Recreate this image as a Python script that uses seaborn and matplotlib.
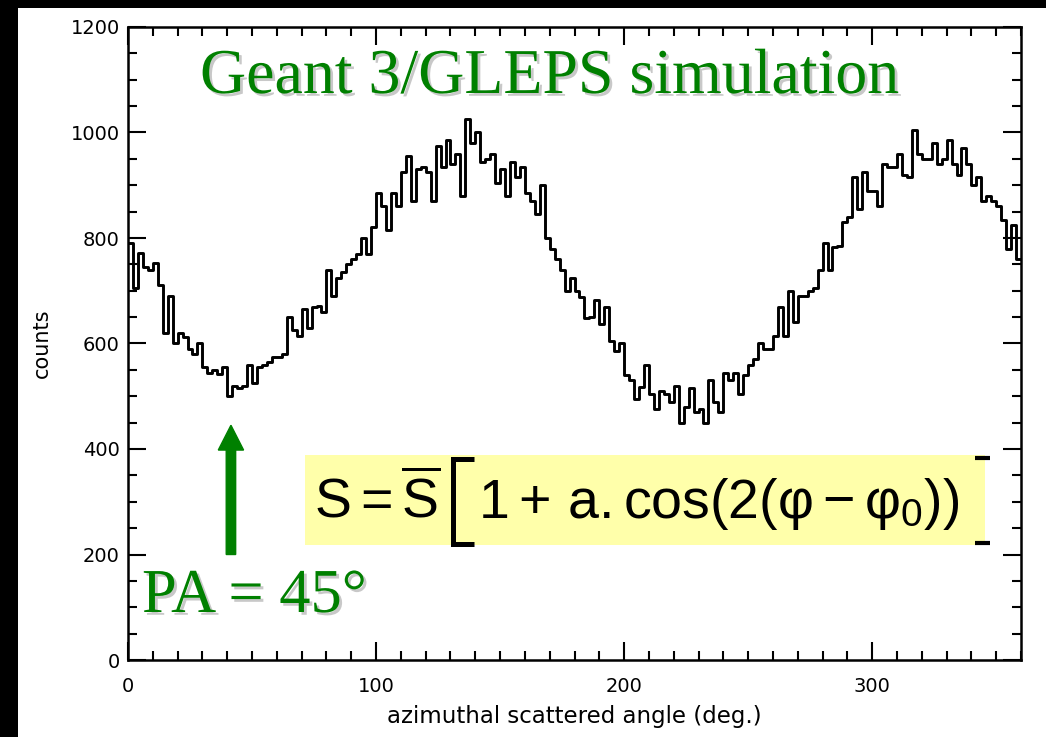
import numpy as np
import pandas as pd
import matplotlib
matplotlib.use("Agg")
import matplotlib.pyplot as plt
import matplotlib.patheffects as pe
from matplotlib.patches import Rectangle
from matplotlib.lines import Line2D
import seaborn as sns

# ---- data: histogram of azimuthal scattering angle (2-degree bins) ----
bin_width = 2
angle_start = list(range(0, 360, bin_width))
counts = [
    790, 705, 771, 745, 740, 752, 710, 620, 690, 600,
    620, 613, 590, 581, 600, 555, 545, 550, 543, 556,
    500, 520, 515, 520, 560, 525, 555, 560, 565, 575,
    575, 580, 650, 625, 615, 665, 630, 670, 672, 660,
    740, 690, 725, 735, 750, 760, 770, 800, 770, 820,
    885, 860, 815, 885, 860, 925, 955, 870, 930, 935,
    925, 870, 975, 935, 985, 940, 960, 880, 1025, 980,
    1000, 945, 950, 960, 905, 930, 880, 945, 915, 935,
    885, 870, 845, 900, 800, 780, 760, 740, 700, 725,
    700, 689, 648, 650, 682, 637, 670, 605, 585, 600,
    540, 530, 495, 518, 560, 505, 475, 510, 505, 490,
    520, 450, 480, 515, 470, 475, 450, 530, 490, 470,
    545, 530, 545, 505, 540, 560, 570, 600, 590, 590,
    615, 670, 615, 700, 640, 690, 690, 700, 705, 740,
    790, 740, 783, 785, 830, 840, 915, 855, 925, 890,
    890, 860, 940, 935, 935, 960, 920, 915, 1005, 960,
    950, 950, 980, 940, 950, 985, 940, 920, 970, 940,
    900, 915, 870, 880, 870, 860, 835, 780, 825, 760,
]
x_ticks = [0, 100, 200, 300]
y_ticks = [0, 200, 400, 600, 800, 1000, 1200]
title_text = "Geant 3/GLEPS simulation"
pa_text = "PA = 45°"
formula_left = r"$\mathrm{S=\overline{S}}$"
formula_right = r"$\mathrm{1+\,a.cos(2(φ-φ_0))}$"

# step outline: close the last bin at its right edge
x_edges = angle_start + [angle_start[-1] + bin_width]
y_vals = counts + [counts[-1]]
df = pd.DataFrame({"angle": x_edges, "counts": y_vals})

sns.set_theme(style="white")
plt.rcParams["font.family"] = ["DejaVu Sans"]
plt.rcParams["mathtext.fontset"] = "custom"
plt.rcParams["mathtext.rm"] = "Liberation Sans"
plt.rcParams["mathtext.it"] = "Liberation Sans"
plt.rcParams["mathtext.bf"] = "Liberation Sans:bold"

W, H = 1046, 737
fig = plt.figure(figsize=(W / 100, H / 100), dpi=100, facecolor="black")
fig.add_artist(Rectangle((18 / W, 0), 1, 1 - 8 / H, transform=fig.transFigure,
                         facecolor="white", edgecolor="none", zorder=-5))

ax = fig.add_axes([128 / W, 1 - 660 / H, (1021 - 128) / W, (660 - 27) / H])
ax.set_facecolor("white")

sns.lineplot(data=df, x="angle", y="counts", drawstyle="steps-post",
             color="black", lw=2.1, estimator=None, sort=False, ax=ax)

ax.set_xlim(0, 360)
ax.set_ylim(0, 1200)
ax.set_xticks(x_ticks)
ax.set_yticks(y_ticks)
ax.set_xticks(np.arange(0, 361, 10), minor=True)
ax.set_yticks(np.arange(0, 1201, 50), minor=True)
ax.tick_params(which="both", direction="in", top=True, right=True,
               bottom=True, left=True, color="black", width=1.5)
ax.tick_params(which="major", length=13, labelsize=14, labelcolor="black")
ax.tick_params(axis="x", which="major", pad=12)
ax.tick_params(axis="y", which="major", pad=6)
ax.tick_params(which="minor", length=6.5)
for s in ax.spines.values():
    s.set_visible(True)
    s.set_color("black")
    s.set_linewidth(1.8)

ax.set_xlabel("azimuthal scattered angle (deg.)", fontsize=16.5, color="black", labelpad=7)
ax.set_ylabel("counts", fontsize=15, color="black", labelpad=13)

green = "#008000"
shadow = [pe.withSimplePatchShadow(offset=(2, -2), shadow_rgbFace="#777777", alpha=0.4)]
fig.text(200 / W, 1 - 93 / H, title_text, fontsize=46, family="Liberation Serif",
         color=green, ha="left", va="baseline", path_effects=shadow, zorder=10)
fig.text(142 / W, 1 - 612 / H, pa_text, fontsize=45, family="Liberation Serif",
         color=green, ha="left", va="baseline", path_effects=shadow, zorder=10)

# yellow formula box
fig.add_artist(Rectangle((305 / W, 1 - 545 / H), (985 - 305) / W, 90 / H,
                         transform=fig.transFigure, facecolor="#ffffaa",
                         edgecolor="none", zorder=8))
fig.text(314 / W, 1 - 518 / H, formula_left, fontsize=40, color="black",
         ha="left", va="baseline", zorder=10)
fig.text(478 / W, 1 - 518 / H, formula_right, fontsize=40, color="black",
         ha="left", va="baseline", zorder=10)


def fig_line(xs, ys, lw):
    fig.add_artist(Line2D([v / W for v in xs], [1 - v / H for v in ys],
                          transform=fig.transFigure, color="black", lw=lw,
                          solid_capstyle="butt", solid_joinstyle="miter", zorder=10))


# large left bracket of the formula
fig_line([474, 453, 453, 474], [459, 459, 544, 544], 3.6)
# right bracket: only its two serifs are visible in the original
fig_line([975, 990], [458, 458], 3)
fig_line([975, 990], [543, 543], 3)

# PA arrow
ax.arrow(41.5, 200, 0, 245 - 47, width=3.8, head_width=10.2, head_length=47,
         length_includes_head=False, color=green, zorder=5)

fig.savefig("out.png", dpi=100, facecolor=fig.get_facecolor())
